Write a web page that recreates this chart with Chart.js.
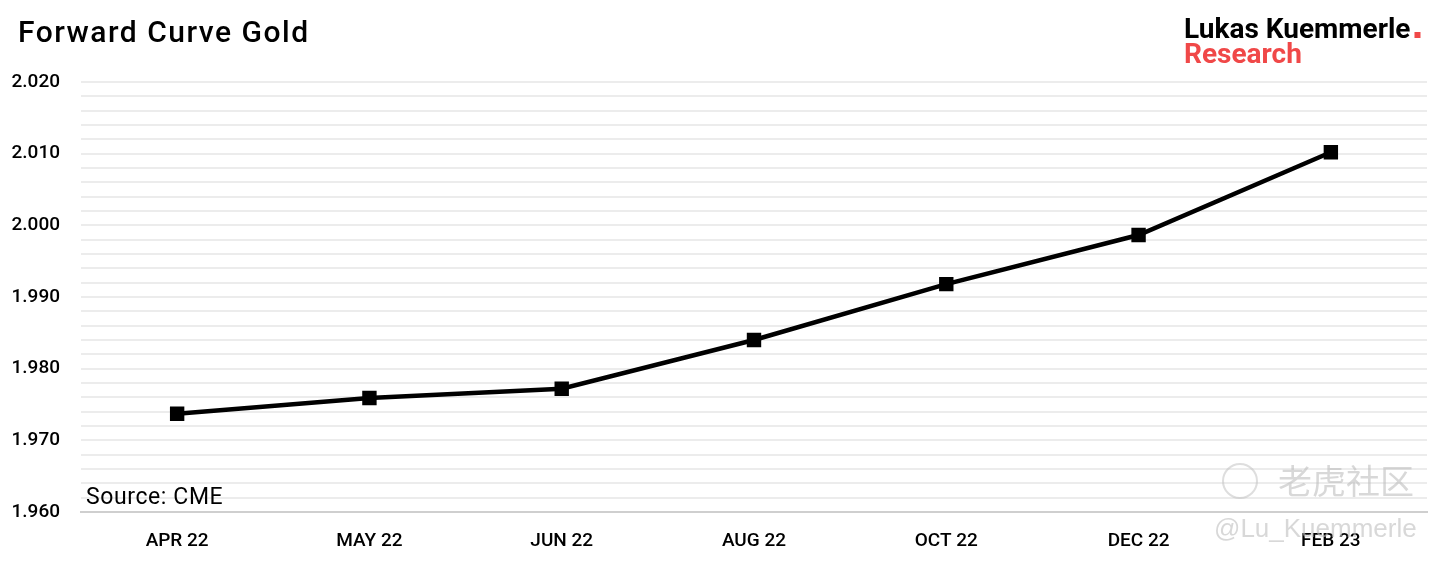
<!DOCTYPE html>
<html><head><meta charset="utf-8">
<script src="https://cdn.jsdelivr.net/npm/chart.js@4"></script>
<style>html,body{margin:0;padding:0;background:#fff}#w{width:1452px;height:564px;position:relative}</style>
</head><body><div id="w"><canvas id="c"></canvas></div>
<script>
const categories = ["APR 22","MAY 22","JUN 22","AUG 22","OCT 22","DEC 22","FEB 23"];
const forwardPrices = [1973.7, 1975.9, 1977.2, 1984.0, 1991.8, 1998.65, 2010.2];
const yMin = 1960, yMax = 2020, gridStep = 2, labelStep = 10;
const FONT = "Roboto, 'DejaVu Sans', sans-serif";

const fmt = v => { const s = String(Math.round(v)); return s.length > 3 ? s.slice(0, s.length-3) + "." + s.slice(-3) : s; };

const decor = {
  id: 'decor',
  afterDraw(chart) {
    const ctx = chart.ctx;
    ctx.save();
    // watermark
    ctx.fillStyle = 'rgba(190,190,190,0.6)';
    ctx.font = "34px 'Noto Sans CJK SC'";
    ctx.textBaseline = 'middle';
    ctx.textAlign = 'left';
    ctx.fillText('老虎社区', 1278, 481);
    ctx.strokeStyle = 'rgba(190,190,190,0.5)';
    ctx.lineWidth = 2;
    ctx.beginPath(); ctx.arc(1240, 481, 17, 0, Math.PI*2); ctx.stroke();
    ctx.font = "26px 'Liberation Sans'";
    ctx.fillText('@Lu_Kuemmerle', 1214, 530);
    // title
    ctx.fillStyle = '#000';
    ctx.font = "500 30px " + FONT;
    ctx.letterSpacing = '1.5px';
    ctx.textBaseline = 'alphabetic';
    ctx.fillText('Forward Curve Gold', 18, 42);
    // logo
    ctx.letterSpacing = '0px';
    ctx.font = "bold 28px " + FONT;
    ctx.fillText('Lukas Kuemmerle', 1184, 38);
    const w = ctx.measureText('Lukas Kuemmerle').width;
    ctx.fillStyle = '#f04848';
    ctx.fillRect(1184 + w + 4, 32, 6, 6);
    ctx.fillText('Research', 1184, 63);
    // source
    ctx.fillStyle = '#000';
    ctx.font = "23px " + FONT;
    ctx.letterSpacing = '0.6px';
    ctx.fillText('Source: CME', 86, 504);
    ctx.restore();
  }
};

new Chart(document.getElementById('c'), {
  type: 'line',
  data: {
    labels: categories,
    datasets: [{
      data: forwardPrices,
      borderColor: '#000',
      backgroundColor: '#000',
      borderWidth: 4.5,
      pointStyle: 'rect',
      pointRadius: 7,
      pointHoverRadius: 7,
      tension: 0
    }]
  },
  options: {
    responsive: true,
    maintainAspectRatio: false,
    animation: false,
    layout: { padding: { top: 82, right: 25, left: 0, bottom: 0 } },
    plugins: { legend: { display: false }, tooltip: { enabled: false } },
    scales: {
      x: {
        offset: true,
        grid: { display: false, drawTicks: false },
        border: { display: true, color: '#cfcfcf', width: 2 },
        ticks: { color: '#000', font: { family: FONT, size: 19, weight: '500' }, padding: 18, maxRotation: 0 },
        afterFit(s) { s.height = 52; }
      },
      y: {
        min: yMin, max: yMax,
        grid: { color: '#ececec', lineWidth: 2, drawTicks: false },
        border: { display: false },
        ticks: {
          stepSize: gridStep, autoSkip: false, padding: 21, color: '#000',
          font: { family: FONT, size: 19, weight: '500' },
          callback: v => (v % labelStep === 0 ? fmt(v) : '')
        },
        afterFit(s) { s.width = 81; }
      }
    }
  },
  plugins: [decor]
});
</script></body></html>
